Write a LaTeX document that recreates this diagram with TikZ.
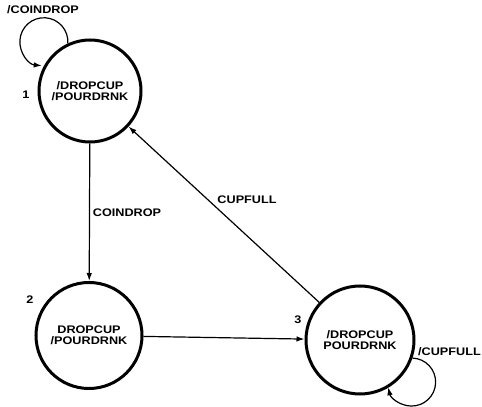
\documentclass[tikz,border=0pt]{standalone}
\usepackage{fontspec}
\setmainfont{Liberation Sans}[FakeStretch=1.15]
\usetikzlibrary{arrows.meta}
\begin{document}
\begin{tikzpicture}[x=1pt,y=1pt,
  state/.style={circle,draw,line width=3pt,minimum size=102pt,inner sep=0pt,align=center,font=\bfseries\fontsize{11}{11.5}\selectfont},
  lbl/.style={font=\bfseries\fontsize{11}{11.5}\selectfont,inner sep=0pt},
  conn/.style={line width=1.2pt,-{Latex[length=8pt,width=5.5pt]}}]
\useasboundingbox (0,0) rectangle (482,407);
\node[state] (n1) at (90,316) {/DROPCUP\\/POURDRNK};
\node[state,minimum size=106pt] (n2) at (89,71.5) {DROPCUP\\/POURDRNK};
\node[state,minimum size=108pt] (n3) at (360,67) {/DROPCUP\\POURDRNK};
\node[lbl] (s1) at (26,312) {1};
\node[lbl] (s2) at (30,107) {2};
\node[lbl] (s3) at (298,87) {3};
\draw[conn] (n1.115) arc[start angle=-4,end angle=265,radius=24];
\node[lbl] (l1) at (43,397) {/COINDROP};
\draw[conn] (n1) -- (n2);
\node[lbl] (l2) at (127,194) {COINDROP};
\draw[conn] (n2) -- (n3);
\draw[conn] (n3) -- (n1);
\node[lbl] (l3) at (247,207) {CUPFULL};
\draw[conn] (n3.-19) arc[start angle=88,end angle=-167.5,radius=24];
\node[lbl,anchor=west] (l4) at (418,55) {/CUPFULL};
\end{tikzpicture}
\end{document}
